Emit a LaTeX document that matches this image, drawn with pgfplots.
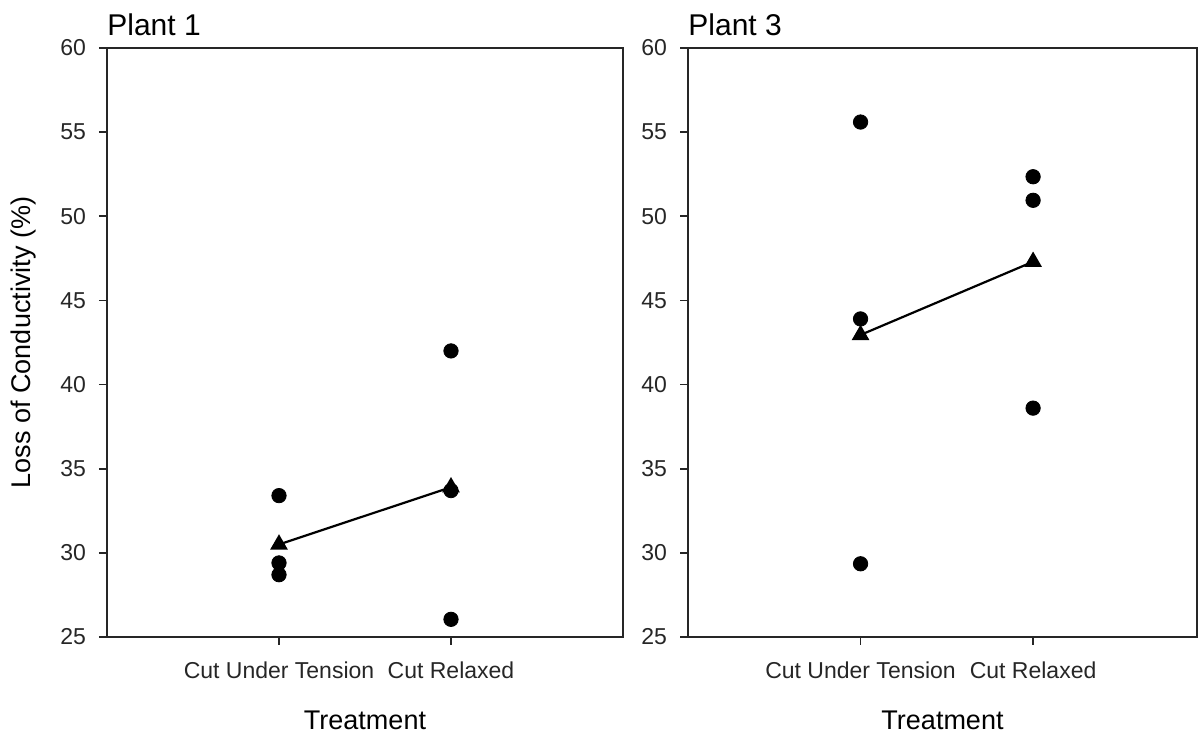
\documentclass[border=0pt]{standalone}
\usepackage{fontspec}
\setmainfont{Liberation Sans}
\usepackage{pgfplots}
\pgfplotsset{compat=1.18}
\pgfplotsset{
  plantaxis/.style={
    scale only axis,
    height=294.5pt,
    ymin=25, ymax=60,
    ytick={25,30,35,40,45,50,55,60},
    xmin=-1,
    xtick={0,1},
    xticklabels={Cut Under Tension, Cut Relaxed},
    tick align=outside,
    major tick length=4pt,
    xtick pos=bottom, ytick pos=left,
    axis line style={line width=0.9pt, black!85},
    every tick/.style={line width=0.8pt, black!85},
    /pgf/number format/assume math mode=true,
    tick label style={font=\fontsize{11.5}{13}\selectfont, text=black!85},
    xticklabel style={yshift=-5pt},
    yticklabel style={xshift=-3pt},
    title style={at={(axis description cs:0,1)}, anchor=south west, inner sep=0pt, font=\fontsize{15}{17}\selectfont},
    xlabel={Treatment},
    xlabel style={at={(axis description cs:0.5,0)}, anchor=center, yshift=-41.5pt, font=\fontsize{13.5}{15}\selectfont},
    clip=false,
  },
  dots/.style={only marks, mark=*, mark size=3.6pt, black},
  means/.style={black, line width=1.1pt, mark=triangle*, mark size=4pt, mark options={solid}},
}
\begin{document}
\begin{tikzpicture}
\begin{axis}[plantaxis, width=258pt, xmax=2, title={Plant 1},
  ylabel={Loss of Conductivity (\%)},
  ylabel style={at={(axis description cs:0,0.5)}, anchor=center, rotate=0, yshift=41.5pt, font=\fontsize{13.5}{15}\selectfont}]
\addplot[dots] coordinates {(0,33.4) (0,29.4) (0,28.7) (1,42.0) (1,33.7) (1,26.05)};
\addplot[means] coordinates {(0,30.5) (1,33.9)};
\end{axis}
\begin{axis}[plantaxis, at={(290.5pt,0)}, width=254.5pt, xmax=1.95, title={Plant 3}]
\addplot[dots] coordinates {(0,55.6) (0,43.9) (0,29.35) (1,52.35) (1,50.95) (1,38.6)};
\addplot[means] coordinates {(0,42.95) (1,47.3)};
\end{axis}
\pgfresetboundingbox
\path[use as bounding box] (-53.5pt,-47.5pt) rectangle (546pt,318.5pt);
\end{tikzpicture}
\end{document}
